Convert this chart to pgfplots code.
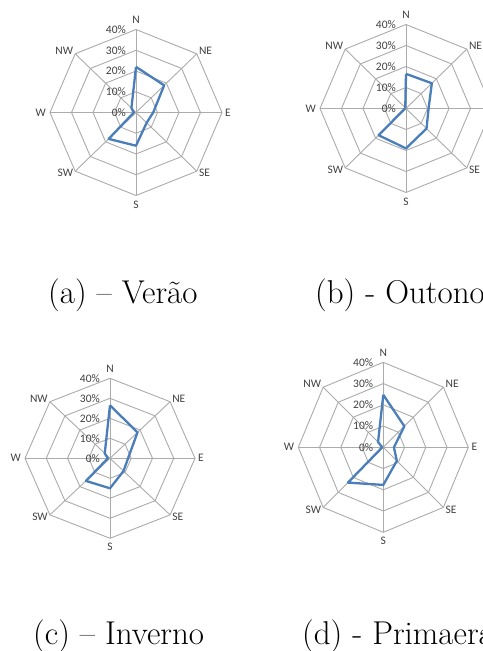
\documentclass[border=0pt]{standalone}
\usepackage{fontspec}
\usepackage{pgfplots}
\pgfplotsset{compat=1.18}
\newfontfamily\carlito{Carlito}
\definecolor{gridgray}{HTML}{ABABAB}
\definecolor{serieblue}{HTML}{4A7EBB}
\definecolor{labelgray}{HTML}{404040}

\pgfplotsset{
  radar/.style={hide axis, clip=false, anchor=center,
    xmin=-40, xmax=40, ymin=-40, ymax=40},
  gridline/.style={data cs=polar, gridgray, line width=0.9bp, mark=none},
  serie/.style={data cs=polar, serieblue, line width=2.3bp, mark=none, line join=round},
}
\tikzset{
  dirlab/.style={font=\carlito\fontsize{11.5bp}{13bp}\selectfont, text=labelgray, inner sep=2bp},
  ticklab/.style={font=\carlito\fontsize{11.5bp}{13bp}\selectfont, text=labelgray, inner sep=0pt, anchor=east, xshift=-10bp},
  captext/.style={font=\fontsize{33bp}{36bp}\selectfont, anchor=base west, inner sep=0pt},
}

% octagon rings, spokes and texts of one radar
\newcommand{\radargrid}{%
  \pgfplotsinvokeforeach{10,20,30,40}{
    \addplot[gridline] coordinates {(90,##1) (45,##1) (0,##1) (-45,##1) (-90,##1) (-135,##1) (180,##1) (135,##1) (90,##1)};
  }
  \addplot[gridline] coordinates {(90,40) (270,40)};
  \addplot[gridline] coordinates {(45,40) (225,40)};
  \addplot[gridline] coordinates {(0,40) (180,40)};
  \addplot[gridline] coordinates {(135,40) (315,40)};
  \node[dirlab, anchor=south, inner sep=6bp] at (axis cs:0,40) {N};
  \node[dirlab, anchor=west, yshift=3bp] at (axis cs:28.28,28.28) {NE};
  \node[dirlab, anchor=west, inner sep=3bp] at (axis cs:40,0) {E};
  \node[dirlab, anchor=west, yshift=-2bp] at (axis cs:28.28,-28.28) {SE};
  \node[dirlab, anchor=north, inner sep=5bp] at (axis cs:0,-40) {S};
  \node[dirlab, anchor=east, yshift=-2bp] at (axis cs:-28.28,-28.28) {SW};
  \node[dirlab, anchor=east, inner sep=4bp] at (axis cs:-40,0) {W};
  \node[dirlab, anchor=east, yshift=3bp] at (axis cs:-28.28,28.28) {NW};
  \node[ticklab] at (axis cs:0,40) {40\%};
  \node[ticklab] at (axis cs:0,30) {30\%};
  \node[ticklab] at (axis cs:0,20) {20\%};
  \node[ticklab] at (axis cs:0,10) {10\%};
  \node[ticklab] at (axis cs:0,0) {0\%};
}

\begin{document}
\begin{tikzpicture}
\useasboundingbox (0,0) rectangle (483bp,651bp);
\clip (0,0) rectangle (483bp,651bp);

% (a) Verao
\begin{axis}[radar, at={(136bp,538.5bp)}, x=2.15bp, y=2.075bp]
  \radargrid
  \addplot[serie] coordinates {(90,22) (45,18.5) (0,8) (-45,7) (-90,16) (-135,18) (180,1) (135,3) (90,22)};
\end{axis}

% (b) Outono
\begin{axis}[radar, at={(406bp,542.5bp)}, x=2.15bp, y=2.1bp]
  \radargrid
  \addplot[serie] coordinates {(90,16.5) (45,17) (0,10.5) (-45,13.5) (-90,19) (-135,18) (180,0.5) (135,0.5) (90,16.5)};
\end{axis}

% (c) Inverno
\begin{axis}[radar, at={(110bp,192.7bp)}, x=2.125bp, y=2.0bp]
  \radargrid
  \addplot[serie] coordinates {(90,26.5) (45,18.3) (0,8.5) (-45,9) (-90,15) (-135,16) (180,1) (135,3.5) (90,26.5)};
\end{axis}

% (d) Primavera
\begin{axis}[radar, at={(383.3bp,203.7bp)}, x=2.125bp, y=2.125bp]
  \radargrid
  \addplot[serie] coordinates {(90,24.7) (45,14) (0,5) (-45,9) (-90,17.7) (-135,23.5) (180,0.5) (135,3.5) (90,24.7)};
\end{axis}

\node[captext] at (48bp,347bp) {(a) – Verão};
\node[captext] at (315bp,347bp) {(b) - Outono};
\node[captext] at (33bp,7bp) {(c) – Inverno};
\node[captext] at (302bp,7bp) {(d) - Primaera};
\end{tikzpicture}
\end{document}
